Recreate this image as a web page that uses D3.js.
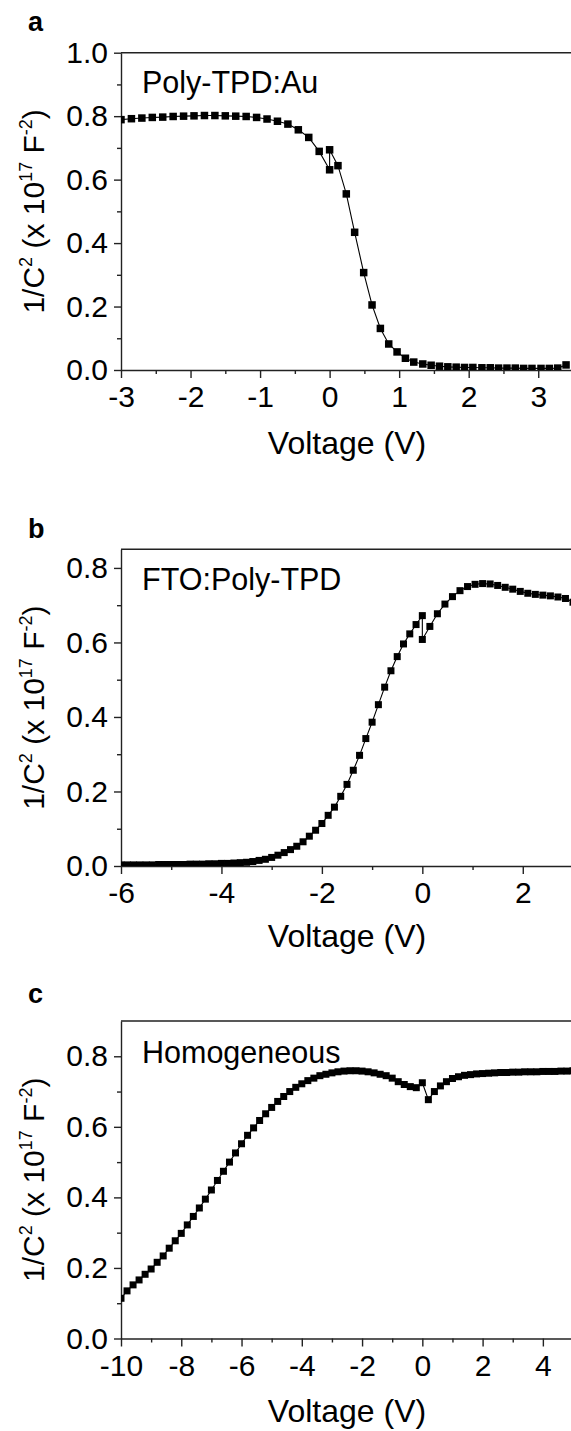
<!DOCTYPE html>
<html>
<head>
<meta charset="utf-8">
<script src="https://cdn.jsdelivr.net/npm/d3@7"></script>
<style>
  body { margin: 0; background: #fff; }
  svg { display: block; }
  text { font-family: Arial, "Liberation Sans", sans-serif; fill: #000; }
</style>
</head>
<body>
<svg id="chart" width="571" height="1431"></svg>
<script>
// ---- panel a : Poly-TPD:Au (reverse sweep, then forward sweep) ----
var voltA = [-3, -2.85, -2.7, -2.55, -2.4, -2.25, -2.1, -1.95, -1.8, -1.65, -1.5, -1.35, -1.2, -1.05, -0.9, -0.75, -0.6, -0.45, -0.3, -0.15, 0,
  0, 0.12, 0.24, 0.36, 0.49, 0.61, 0.73, 0.85, 0.97, 1.09, 1.21, 1.34, 1.46, 1.58, 1.70, 1.82, 1.94, 2.06, 2.19, 2.31, 2.43, 2.55, 2.67, 2.79, 2.91, 3.04, 3.16, 3.28, 3.40];
var invC2A = [0.789, 0.792, 0.794, 0.796, 0.797, 0.799, 0.800, 0.801, 0.802, 0.802, 0.801, 0.800, 0.799, 0.796, 0.791, 0.784, 0.775, 0.757, 0.733, 0.689, 0.631,
  0.694, 0.644, 0.555, 0.434, 0.307, 0.205, 0.131, 0.082, 0.057, 0.037, 0.025, 0.019, 0.015, 0.012, 0.010, 0.009, 0.008, 0.008, 0.007, 0.007, 0.006, 0.006, 0.006, 0.005, 0.005, 0.005, 0.005, 0.006, 0.016];

// ---- panel b : FTO:Poly-TPD ----
var voltB = [-6, -5.875, -5.75, -5.625, -5.5, -5.375, -5.25, -5.125, -5, -4.875, -4.75, -4.625, -4.5, -4.375, -4.25, -4.125,
  -4, -3.875, -3.75, -3.625, -3.5, -3.375, -3.25, -3.125, -3, -2.875, -2.75, -2.625, -2.5, -2.375, -2.25, -2.125,
  -2, -1.875, -1.75, -1.625, -1.5, -1.375, -1.25, -1.125, -1, -0.875, -0.75, -0.625, -0.5, -0.375, -0.25, -0.125, 0,
  0, 0.15, 0.3, 0.45, 0.6, 0.75, 0.9, 1.05, 1.2, 1.35, 1.5, 1.65, 1.8, 1.95, 2.1, 2.25, 2.4, 2.55, 2.7, 2.85, 3.0];
var invC2B = [0.003, 0.003, 0.003, 0.003, 0.003, 0.003, 0.004, 0.004, 0.004, 0.004, 0.004, 0.005, 0.005, 0.005, 0.006, 0.006,
  0.007, 0.007, 0.008, 0.009, 0.010, 0.012, 0.015, 0.018, 0.023, 0.029, 0.036, 0.044, 0.053, 0.065, 0.080, 0.096,
  0.114, 0.136, 0.158, 0.187, 0.219, 0.257, 0.297, 0.342, 0.386, 0.433, 0.480, 0.524, 0.562, 0.596, 0.623, 0.648, 0.672,
  0.608, 0.643, 0.677, 0.703, 0.723, 0.739, 0.750, 0.756, 0.758, 0.757, 0.753, 0.748, 0.743, 0.737, 0.732, 0.729, 0.727, 0.725, 0.722, 0.718, 0.708];

// ---- panel c : Homogeneous ----
var voltC = [-10, -9.8, -9.6, -9.4, -9.2, -9, -8.8, -8.6, -8.4, -8.2, -8, -7.8, -7.6, -7.4, -7.2, -7, -6.8, -6.6, -6.4, -6.2,
  -6, -5.8, -5.6, -5.4, -5.2, -5, -4.8, -4.6, -4.4, -4.2, -4, -3.8, -3.6, -3.4, -3.2, -3, -2.8, -2.6, -2.4, -2.2,
  -2, -1.8, -1.6, -1.4, -1.2, -1, -0.8, -0.6, -0.4, -0.2, 0,
  0.2, 0.4, 0.6, 0.8, 1, 1.2, 1.4, 1.6, 1.8, 2, 2.2, 2.4, 2.6, 2.8, 3, 3.2, 3.4, 3.6, 3.8, 4, 4.2, 4.4, 4.6, 4.8, 5];
var invC2C = [0.114, 0.135, 0.152, 0.166, 0.182, 0.197, 0.216, 0.234, 0.256, 0.277, 0.298, 0.322, 0.346, 0.370, 0.395, 0.421, 0.448, 0.474, 0.500, 0.526,
  0.552, 0.576, 0.597, 0.618, 0.637, 0.655, 0.672, 0.686, 0.700, 0.712, 0.722, 0.731, 0.738, 0.745, 0.749, 0.753, 0.756, 0.758, 0.759, 0.759,
  0.758, 0.756, 0.753, 0.749, 0.745, 0.738, 0.728, 0.720, 0.714, 0.711, 0.725,
  0.677, 0.700, 0.716, 0.728, 0.737, 0.742, 0.746, 0.748, 0.750, 0.751, 0.752, 0.753, 0.754, 0.754, 0.755, 0.755, 0.756, 0.756, 0.756, 0.757, 0.757, 0.757, 0.758, 0.758, 0.759];

// ---- ticks ----
var xTicksA = [-3, -2, -1, 0, 1, 2, 3];
var xMinorA = [-2.5, -1.5, -0.5, 0.5, 1.5, 2.5];
var xTicksB = [-6, -4, -2, 0, 2];
var xMinorB = [-5, -3, -1, 1];
var xTicksC = [-10, -8, -6, -4, -2, 0, 2, 4];
var xMinorC = [-9, -7, -5, -3, -1, 1, 3];
var yTicksA = [0, 0.2, 0.4, 0.6, 0.8, 1.0];
var yTicksBC = [0, 0.2, 0.4, 0.6, 0.8];
var yMinorA = [0.1, 0.3, 0.5, 0.7, 0.9];
var yMinorBC = [0.1, 0.3, 0.5, 0.7];

var panels = [
  {id: 'a', name: 'Poly-TPD:Au', volt: voltA, val: invC2A, xDomain: [-3, 3.5], yDomain: [0, 1.0],
   xTicks: xTicksA, xMinor: xMinorA, yTicks: yTicksA, yMinor: yMinorA,
   top: 52.7, bottom: 370, letterY: 31, nameY: 93, titleY: 454, mark: 7.5},
  {id: 'b', name: 'FTO:Poly-TPD', volt: voltB, val: invC2B, xDomain: [-6, 3], yDomain: [0, 0.85],
   xTicks: xTicksB, xMinor: xMinorB, yTicks: yTicksBC, yMinor: yMinorBC,
   top: 549.3, bottom: 866, letterY: 538, nameY: 590, titleY: 947, mark: 7},
  {id: 'c', name: 'Homogeneous', volt: voltC, val: invC2C, xDomain: [-10, 5], yDomain: [0, 0.9],
   xTicks: xTicksC, xMinor: xMinorC, yTicks: yTicksBC, yMinor: yMinorBC,
   top: 1021, bottom: 1338.5, letterY: 1003, nameY: 1063, titleY: 1422, mark: 7}
];

var svg = d3.select('#chart');
var left = 121, right = 573;
var axisColor = '#222';

function styleAxis(sel) {
  sel.selectAll('path, line').attr('stroke', axisColor).attr('stroke-width', 1.4);
  sel.selectAll('text').attr('font-size', 30).attr('fill', '#000');
}

panels.forEach(function (p) {
  var g = svg.append('g');
  var x = d3.scaleLinear().domain(p.xDomain).range([left, right]);
  var y = d3.scaleLinear().domain(p.yDomain).range([p.bottom, p.top]);

  g.append('clipPath').attr('id', 'clip-' + p.id)
    .append('rect')
    .attr('x', left).attr('y', p.top)
    .attr('width', right - left).attr('height', p.bottom - p.top);

  // minor ticks
  g.append('g')
    .attr('transform', 'translate(0,' + p.bottom + ')')
    .call(d3.axisBottom(x).tickValues(p.xMinor).tickSize(4).tickFormat(''))
    .call(function (s) { s.select('.domain').remove(); styleAxis(s); });
  g.append('g')
    .attr('transform', 'translate(' + left + ',0)')
    .call(d3.axisLeft(y).tickValues(p.yMinor).tickSize(4).tickFormat(''))
    .call(function (s) { s.select('.domain').remove(); styleAxis(s); });

  // major axes
  g.append('g')
    .attr('transform', 'translate(0,' + p.bottom + ')')
    .call(d3.axisBottom(x).tickValues(p.xTicks).tickSize(8).tickSizeOuter(0).tickPadding(8)
      .tickFormat(function (d) { return String(d); }))
    .call(styleAxis);
  g.append('g')
    .attr('transform', 'translate(' + left + ',0)')
    .call(d3.axisLeft(y).tickValues(p.yTicks).tickSize(7).tickSizeOuter(0).tickPadding(6)
      .tickFormat(d3.format('.1f')))
    .call(styleAxis);

  // frame top and right
  g.append('path')
    .attr('d', 'M' + left + ',' + p.top + 'H' + right + 'V' + p.bottom)
    .attr('fill', 'none').attr('stroke', axisColor).attr('stroke-width', 1.4);

  // data
  var pts = d3.zip(p.volt, p.val);
  var plot = g.append('g').attr('clip-path', 'url(#clip-' + p.id + ')');
  plot.append('path')
    .datum(pts)
    .attr('fill', 'none')
    .attr('stroke', '#000')
    .attr('stroke-width', 1.1)
    .attr('d', d3.line().x(function (d) { return x(d[0]); }).y(function (d) { return y(d[1]); }));
  plot.selectAll('rect.pt')
    .data(pts)
    .enter().append('rect')
    .attr('class', 'pt')
    .attr('x', function (d) { return x(d[0]) - p.mark / 2; })
    .attr('y', function (d) { return y(d[1]) - p.mark / 2; })
    .attr('width', p.mark).attr('height', p.mark)
    .attr('fill', '#000');

  // panel letter
  g.append('text')
    .attr('x', 28).attr('y', p.letterY)
    .attr('font-size', 27).attr('font-weight', 'bold')
    .text(p.id);

  // sample name
  g.append('text')
    .attr('x', 142).attr('y', p.nameY)
    .attr('font-size', 30.5)
    .text(p.name);

  // x title
  g.append('text')
    .attr('x', (left + right) / 2).attr('y', p.titleY)
    .attr('text-anchor', 'middle')
    .attr('font-size', 32)
    .text('Voltage (V)');

  // y title
  var yt = g.append('text')
    .attr('transform', 'translate(44,' + ((p.top + p.bottom) / 2) + ') rotate(-90)')
    .attr('text-anchor', 'middle')
    .attr('font-size', 30);
  yt.append('tspan').text('1/C');
  yt.append('tspan').attr('font-size', 18).attr('dy', -12).text('2');
  yt.append('tspan').attr('dy', 12).text(' (x 10');
  yt.append('tspan').attr('font-size', 18).attr('dy', -12).text('17');
  yt.append('tspan').attr('dy', 12).text(' F');
  yt.append('tspan').attr('font-size', 18).attr('dy', -12).text('-2');
  yt.append('tspan').attr('dy', 12).text(')');
});
</script>
</body>
</html>
